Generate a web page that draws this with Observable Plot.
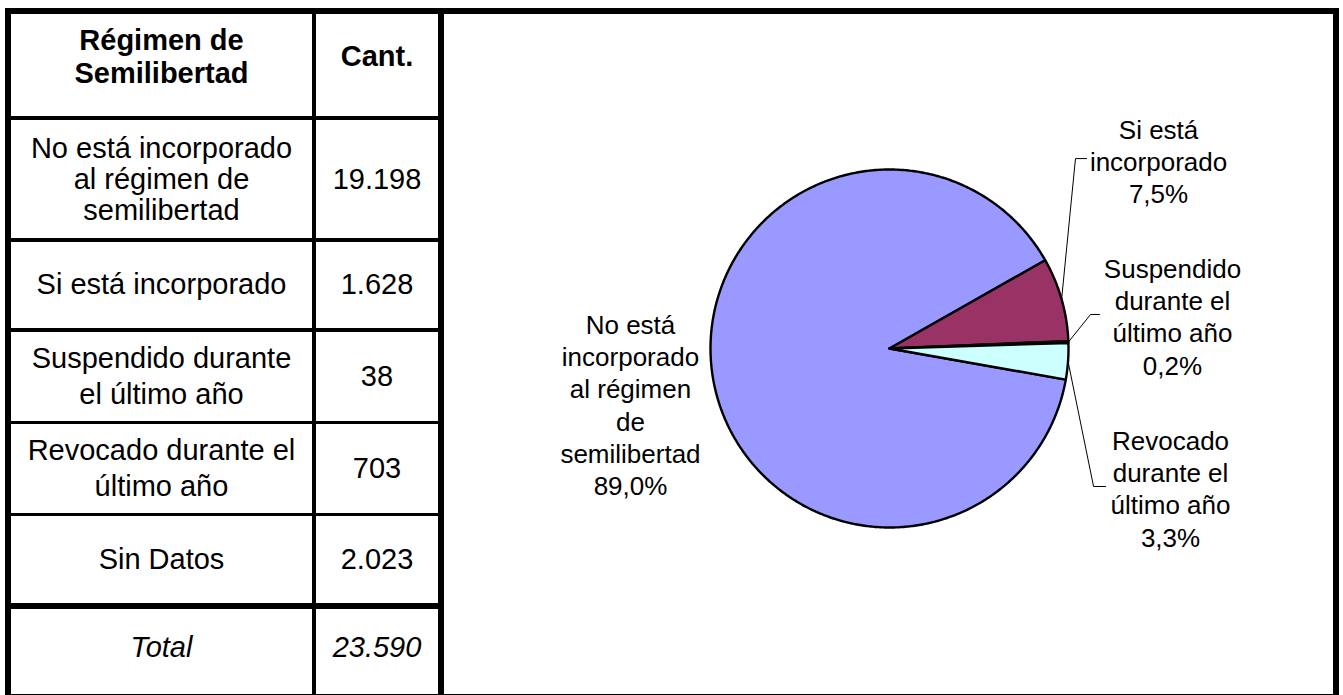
<!DOCTYPE html>
<html><head><meta charset="utf-8">
<script src="https://cdn.jsdelivr.net/npm/d3@7"></script>
<script src="https://cdn.jsdelivr.net/npm/@observablehq/plot@0.6"></script>
<style>
html,body{margin:0;padding:0;background:#fff;overflow:hidden;}
#page{position:relative;width:1343px;height:695px;overflow:hidden;font-family:"Liberation Sans",Arial,sans-serif;background:#fff;}
.ln{position:absolute;background:#000;}
.cell{position:absolute;display:flex;align-items:center;justify-content:center;text-align:center;font-size:29px;line-height:33px;color:#000;white-space:pre;box-sizing:border-box;}
#chart{position:absolute;left:0;top:0;}
</style></head><body><div id="page"></div>
<script>
// ---- data ----
const headers = ["Régimen de\nSemilibertad", "Cant."];
const categories = [
  "No está incorporado al régimen de semilibertad",
  "Si está incorporado",
  "Suspendido durante el último año",
  "Revocado durante el último año",
  "Sin Datos"
];
const tableLabels = [
  "No está incorporado\nal régimen de\nsemilibertad",
  "Si está incorporado",
  "Suspendido durante\nel último año",
  "Revocado durante el\núltimo año",
  "Sin Datos"
];
const counts = [19198, 1628, 38, 703, 2023];
const totalLabel = "Total";
const totalValue = 23590;
const pieCategories = categories.slice(0, 4);
const pieCounts = counts.slice(0, 4);
const pieLabels = [
  "No está\nincorporado\nal régimen\nde\nsemilibertad",
  "Si está\nincorporado",
  "Suspendido\ndurante el\núltimo año",
  "Revocado\ndurante el\núltimo año"
];
const pieColors = ["#9999FF", "#993366", "#FFFFCC", "#CCFFFF"];

// ---- layout (pixels for the HTML table, radius units for the pie) ----
const colLines = [[5, 6], [312, 4], [438, 5.5], [1333, 6]];
const rowLines = [[7.5, 6], [116, 4], [238.3, 3.4], [328.3, 3.4], [420.7, 3.3], [512.7, 3.3], [602.7, 6.6], [693.5, 6]];
const colSpans = [[11, 312], [316, 438]];
const rowLineHeights = [33, 31, 33, 36, 36, 33];
const pieStartDeg = 100;
const labelPos = [[-1.447, 0.2095], [1.503, 1.299], [1.581, 0.522], [1.570, -0.4385]];
const leaderElbow = [null, [[1.039, 1.061], [1.101, 1.061]], [[1.123, 0.190], [1.173, 0.190]], [[1.140, -0.771], [1.207, -0.771]]];

const page = document.getElementById("page");
const loc = d3.formatLocale({decimal: ",", thousands: ".", grouping: [3], currency: ["", ""]});
const fmtInt = loc.format(",d");

// ---- pie (Observable Plot) ----
const R = 179, cx = 889, cy = 348, W = 1343, H = 695;
const arcs = d3.pie().sort(null)
  .startAngle(pieStartDeg * Math.PI / 180)
  .endAngle(pieStartDeg * Math.PI / 180 + 2 * Math.PI)(pieCounts);
const wedgePts = [];
arcs.forEach((a, i) => {
  const name = pieCategories[i];
  wedgePts.push({name, x: 0, y: 0});
  const n = Math.max(2, Math.ceil((a.endAngle - a.startAngle) / (Math.PI / 360)));
  for (let k = 0; k <= n; k++) {
    const t = a.startAngle + (a.endAngle - a.startAngle) * k / n;
    wedgePts.push({name, x: Math.sin(t), y: Math.cos(t)});
  }
  wedgePts.push({name, x: 0, y: 0});
});
const sum = d3.sum(pieCounts);
const labelData = arcs.map((a, i) => ({
  name: pieCategories[i],
  x: labelPos[i][0], y: labelPos[i][1],
  text: pieLabels[i] + "\n" + (pieCounts[i] / sum * 100).toFixed(1).replace(".", ",") + "%"
}));
const leaderPts = [];
arcs.forEach((a, i) => {
  if (!leaderElbow[i]) return;
  const m = (a.startAngle + a.endAngle) / 2;
  leaderPts.push({name: pieCategories[i], x: Math.sin(m), y: Math.cos(m)});
  leaderElbow[i].forEach(p => leaderPts.push({name: pieCategories[i], x: p[0], y: p[1]}));
});

const chart = Plot.plot({
  width: W, height: H,
  margin: 0,
  style: {background: "transparent", fontFamily: "Liberation Sans, Arial, sans-serif"},
  x: {domain: [-cx / R, (W - cx) / R], range: [0, W], axis: null},
  y: {domain: [-(H - cy) / R, cy / R], range: [H, 0], axis: null},
  color: {domain: pieCategories, range: pieColors},
  marks: [
    Plot.line(wedgePts, {x: "x", y: "y", z: "name", fill: "name", stroke: "#000", strokeWidth: 2.4, strokeLinejoin: "round", curve: "linear"}),
    Plot.line(leaderPts, {x: "x", y: "y", z: "name", stroke: "#000", strokeWidth: 1, curve: "linear"}),
    Plot.text(labelData, {x: "x", y: "y", text: "text", fontSize: 26, lineAnchor: "top", lineHeight: 1.24, fill: "#000", textAnchor: "middle"})
  ]
});
chart.id = "chart";
page.appendChild(chart);

// ---- table (HTML) ----
function addLine(l, t, w, h) {
  const d = document.createElement("div");
  d.className = "ln";
  Object.assign(d.style, {left: l + "px", top: t + "px", width: w + "px", height: h + "px"});
  page.appendChild(d);
}
const top0 = rowLines[0][0], bottom = rowLines[rowLines.length - 1][0] + rowLines[rowLines.length - 1][1];
colLines.forEach(([x, w]) => addLine(x, top0, w, bottom - top0));
addLine(colLines[0][0], rowLines[0][0], colLines[3][0] + colLines[3][1] - colLines[0][0], rowLines[0][1]);
addLine(colLines[0][0], rowLines[7][0], colLines[3][0] + colLines[3][1] - colLines[0][0], rowLines[7][1]);
for (let r = 1; r < rowLines.length - 1; r++) addLine(colLines[0][0], rowLines[r][0], colLines[2][0] + colLines[2][1] - colLines[0][0], rowLines[r][1]);

function addCell(r, c, text, extra) {
  const t = rowLines[r][0] + rowLines[r][1];
  const b = rowLines[r + 1][0];
  const d = document.createElement("div");
  d.className = "cell";
  Object.assign(d.style, {left: colSpans[c][0] + "px", width: (colSpans[c][1] - colSpans[c][0]) + "px", top: t + "px", height: (b - t) + "px", lineHeight: rowLineHeights[r] + "px"}, extra || {});
  d.textContent = text;
  page.appendChild(d);
}
headers.forEach((h, c) => addCell(0, c, h, {fontWeight: "bold", paddingBottom: "16px"}));
tableLabels.forEach((lab, i) => {
  addCell(i + 1, 0, lab);
  addCell(i + 1, 1, fmtInt(counts[i]));
});
addCell(6, 0, totalLabel, {fontStyle: "italic", paddingBottom: "8px"});
addCell(6, 1, fmtInt(totalValue), {fontStyle: "italic", paddingBottom: "8px"});
</script></body></html>
